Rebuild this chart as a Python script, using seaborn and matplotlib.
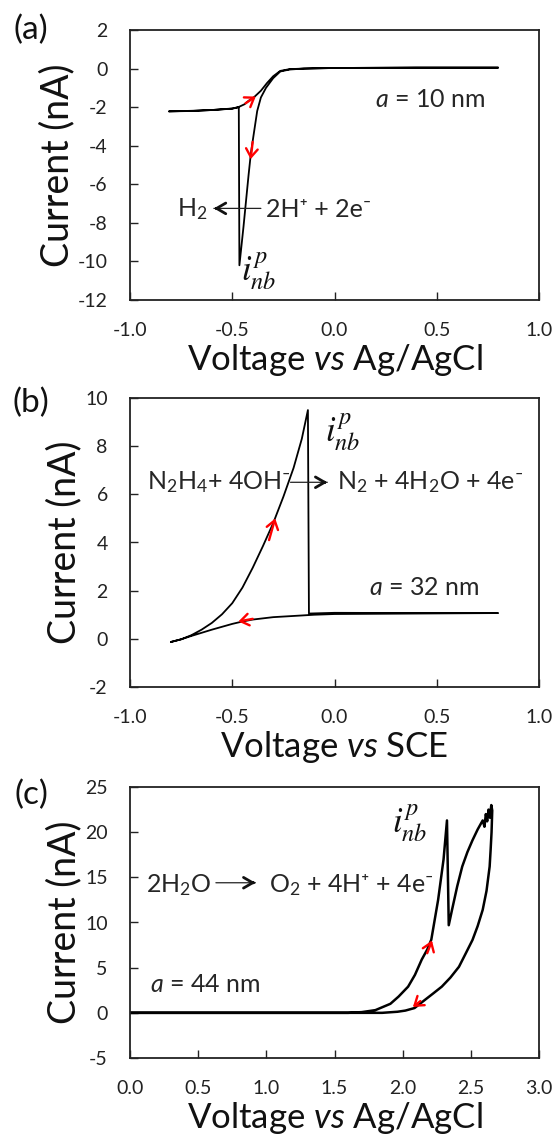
import pandas as pd
import seaborn as sns
import matplotlib.pyplot as plt

# ---- data ----
# (a) H+ reduction, a = 10 nm, V vs Ag/AgCl
va = [0.80, 0.40, 0.00, -0.15, -0.22, -0.265, -0.30, -0.335, -0.36, -0.378, -0.395, -0.409,
      -0.42, -0.433, -0.445, -0.456, -0.465, -0.468, -0.50, -0.60, -0.70, -0.81, -0.70, -0.60,
      -0.50, -0.47, -0.44, -0.42, -0.39, -0.36, -0.33, -0.30, -0.265, -0.22, -0.15, 0.00, 0.40, 0.80]
ia = [0.05, 0.05, 0.03, 0.00, -0.05, -0.15, -0.50, -1.00, -1.50, -2.20, -3.40, -4.40,
      -5.50, -6.90, -8.20, -9.30, -10.20, -2.00, -2.08, -2.15, -2.20, -2.22, -2.19, -2.15,
      -2.07, -2.00, -1.85, -1.67, -1.45, -1.15, -0.75, -0.40, -0.12, -0.03, 0.00, 0.03, 0.05, 0.05]

# (b) hydrazine oxidation, a = 32 nm, V vs SCE
vb = [-0.80, -0.75, -0.70, -0.65, -0.60, -0.55, -0.50, -0.45, -0.40, -0.35, -0.30, -0.25, -0.20,
      -0.16, -0.13, -0.125, 0.00, 0.40, 0.80, 0.40, 0.00, -0.10, -0.20, -0.30, -0.40, -0.45,
      -0.50, -0.55, -0.60, -0.65, -0.70, -0.75, -0.80]
ib = [-0.13, -0.02, 0.15, 0.38, 0.66, 1.02, 1.48, 2.13, 2.95, 3.85, 4.80, 5.90, 7.10,
      8.30, 9.50, 1.05, 1.08, 1.07, 1.07, 1.05, 1.03, 1.00, 0.95, 0.90, 0.80, 0.72,
      0.62, 0.50, 0.38, 0.25, 0.12, -0.02, -0.13]

# (c) water oxidation, a = 44 nm, V vs Ag/AgCl
vc = [0.00, 1.00, 1.60, 1.70, 1.80, 1.91, 1.97, 2.04, 2.09, 2.14, 2.18, 2.21, 2.26, 2.30, 2.325,
      2.338, 2.362, 2.40, 2.437, 2.475, 2.512, 2.55, 2.587, 2.60, 2.61, 2.62, 2.63, 2.64, 2.65,
      2.657, 2.652, 2.645, 2.638, 2.615, 2.587, 2.55, 2.512, 2.46, 2.413, 2.35, 2.287, 2.22,
      2.162, 2.087, 2.02, 1.962, 1.85, 1.00, 0.00]
ic = [0.00, 0.00, 0.00, 0.08, 0.30, 1.00, 1.80, 2.90, 4.20, 5.90, 7.00, 8.10, 12.5, 17.0, 21.3,
      9.70, 11.4, 14.0, 16.2, 17.8, 19.1, 20.3, 21.3, 20.6, 22.0, 21.2, 22.5, 21.6, 23.0,
      22.4, 20.0, 18.0, 16.2, 13.5, 11.4, 9.6, 8.06, 6.5, 5.10, 3.90, 2.90, 2.10,
      1.42, 0.53, 0.25, 0.12, 0.00, 0.00, 0.00]

# red scan-direction arrows: (x_tail, y_tail, x_tip, y_tip)
arrows_a = [(-0.435, -1.80, -0.385, -1.45), (-0.400, -3.80, -0.410, -4.70)]
arrows_b = [(-0.320, 4.10, -0.290, 5.00), (-0.400, 0.83, -0.470, 0.72)]
arrows_c = [(2.180, 6.60, 2.215, 8.00), (2.130, 1.30, 2.075, 0.65)]

sns.set_theme(style='ticks')
plt.rcParams['font.family'] = ['Lato', 'DejaVu Sans']
plt.rcParams['mathtext.fontset'] = 'custom'
plt.rcParams['mathtext.rm'] = 'Lato'
plt.rcParams['mathtext.it'] = 'Lato:italic'
plt.rcParams['axes.unicode_minus'] = False

fig = plt.figure(figsize=(5.56, 11.48), dpi=100)
W, H = 556, 1148
ax_a = fig.add_axes([130 / W, 1 - 300 / H, 409 / W, 270 / H])
ax_b = fig.add_axes([130 / W, 1 - 687 / H, 409 / W, 289 / H])
ax_c = fig.add_axes([130 / W, 1 - 1058 / H, 409 / W, 271 / H])

TXT = 18


def draw(ax, v, i, lw):
    df = pd.DataFrame({'v': v, 'i': i})
    sns.lineplot(data=df, x='v', y='i', sort=False, estimator=None, color='black', lw=lw, ax=ax)


def style(ax, xlim, xticks, ylim, yticks, xlabel):
    ax.set_xlim(xlim)
    ax.set_xticks(xticks)
    ax.set_xticklabels(['%.1f' % t for t in xticks])
    ax.set_ylim(ylim)
    ax.set_yticks(yticks)
    ax.set_yticklabels(['%d' % t for t in yticks])
    ax.tick_params(direction='in', length=6, width=1, pad=16, labelsize=14, colors='#222')
    ax.set_xlabel(xlabel, fontsize=25, labelpad=2, color='#111')
    ax.set_ylabel('Current (nA)', fontsize=27, labelpad=2, color='#111')
    for s in ax.spines.values():
        s.set_linewidth(1.3)
        s.set_color('#222')


def red_arrows(ax, arrows):
    for x0, y0, x1, y1 in arrows:
        ax.annotate('', xy=(x1, y1), xytext=(x0, y0),
                    arrowprops=dict(arrowstyle='->,head_length=0.5,head_width=0.35',
                                    color='red', lw=1.7, shrinkA=0, shrinkB=0))


def react_arrow(ax, x0, x1, y):
    # thin shaft plus a bolder chevron head
    ax.annotate('', xy=(x1, y), xytext=(x0, y),
                arrowprops=dict(arrowstyle='-', color='#222', lw=0.9, shrinkA=0, shrinkB=0))
    ax.annotate('', xy=(x1, y), xytext=(x1 - 0.02 * (x1 - x0) / abs(x1 - x0), y),
                arrowprops=dict(arrowstyle='->,head_length=0.55,head_width=0.32',
                                color='#111', lw=2.0, shrinkA=0, shrinkB=0))


def inbp(ax, x, y):
    ax.text(x, y, r'$i_{nb}^{p}$', fontsize=25, ha='center', va='center',
            math_fontfamily='stix', color='#111')


# (a)
draw(ax_a, va, ia, 1.3)
style(ax_a, (-1, 1), [-1.0, -0.5, 0.0, 0.5, 1.0], (-12, 2), [-12, -10, -8, -6, -4, -2, 0, 2],
      'Voltage $vs$ Ag/AgCl')
red_arrows(ax_a, arrows_a)
ax_a.text(0.20, -1.6, '$a$ = 10 nm', fontsize=TXT, va='center')
ax_a.text(-0.77, -7.3, 'H$_2$', fontsize=TXT, va='center')
react_arrow(ax_a, -0.36, -0.59, -7.25)
ax_a.text(-0.335, -7.3, '2H⁺ + 2e⁻', fontsize=TXT, va='center')
inbp(ax_a, -0.37, -10.5)

# (b)
draw(ax_b, vb, ib, 1.3)
style(ax_b, (-1, 1), [-1.0, -0.5, 0.0, 0.5, 1.0], (-2, 10), [-2, 0, 2, 4, 6, 8, 10],
      'Voltage $vs$ SCE')
red_arrows(ax_b, arrows_b)
ax_b.text(-0.917, 6.5, 'N$_2$H$_4$+ 4OH⁻', fontsize=TXT, va='center')
react_arrow(ax_b, -0.215, -0.035, 6.5)
ax_b.text(0.01, 6.5, 'N$_2$ + 4H$_2$O + 4e⁻', fontsize=TXT, va='center')
ax_b.text(0.17, 2.15, '$a$ = 32 nm', fontsize=TXT, va='center')
inbp(ax_b, 0.04, 8.6)

# (c)
draw(ax_c, vc, ic, 1.8)
style(ax_c, (0, 3), [0.0, 0.5, 1.0, 1.5, 2.0, 2.5, 3.0], (-5, 25), [-5, 0, 5, 10, 15, 20, 25],
      'Voltage $vs$ Ag/AgCl')
red_arrows(ax_c, arrows_c)
ax_c.text(0.12, 14.2, '2H$_2$O', fontsize=TXT, va='center')
react_arrow(ax_c, 0.63, 0.92, 14.4)
ax_c.text(1.02, 14.2, 'O$_2$ + 4H⁺ + 4e⁻', fontsize=TXT, va='center')
ax_c.text(0.15, 3.1, '$a$ = 44 nm', fontsize=TXT, va='center')
inbp(ax_c, 2.05, 21.0)

for lab, y in [('(a)', 30), ('(b)', 403), ('(c)', 795)]:
    fig.text(31 / W, 1 - y / H, lab, fontsize=24, ha='center', va='center', color='#111')

fig.savefig('out.png', dpi=100)
